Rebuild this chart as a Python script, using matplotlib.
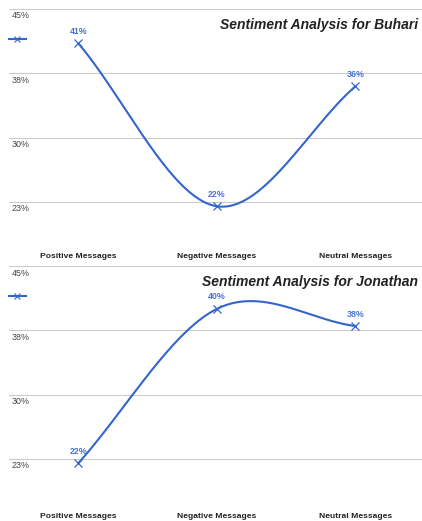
import numpy as np
import matplotlib.pyplot as plt
from matplotlib.lines import Line2D

plt.rcParams['font.family'] = ['Liberation Sans', 'DejaVu Sans']

categories = ['Positive Messages', 'Negative Messages', 'Neutral Messages']
buhari = [41, 22, 36]
jonathan = [22, 40, 38]
titles = ['Sentiment Analysis for Buhari', 'Sentiment Analysis for Jonathan']
grid_levels = [45, 37.5, 30, 22.5]
grid_labels = ['45%', '38%', '30%', '23%']

BLUE = '#3366cc'
W, H = 422, 521
PX_PER_PCT = 64.33 / 7.5


def smooth(x, y, n=80):
    # cubic hermite curve, tangents taken from the neighbouring points
    x = np.asarray(x, float)
    y = np.asarray(y, float)
    m = np.empty_like(y)
    m[1:-1] = (y[2:] - y[:-2]) / (x[2:] - x[:-2])
    m[0] = (y[1] - y[0]) / (x[1] - x[0])
    m[-1] = (y[-1] - y[-2]) / (x[-1] - x[-2])
    xs, ys = [], []
    t = np.linspace(0, 1, n)
    for i in range(len(x) - 1):
        h = x[i + 1] - x[i]
        h00 = 2 * t**3 - 3 * t**2 + 1
        h10 = t**3 - 2 * t**2 + t
        h01 = -2 * t**3 + 3 * t**2
        h11 = t**3 - t**2
        xs.append(x[i] + t * h)
        ys.append(h00 * y[i] + h10 * h * m[i] + h01 * y[i + 1] + h11 * h * m[i + 1])
    return np.concatenate(xs), np.concatenate(ys)


def pt(px):
    return px * 0.72


fig = plt.figure(figsize=(W / 100, H / 100), dpi=100)


def panel(top, bottom, values, title):
    ax = fig.add_axes([9 / W, 1 - bottom / H, (W - 9) / W, (bottom - top) / H])
    ax.set_xlim(-0.5, 2.48)
    ax.set_ylim(45 - (bottom - top) / PX_PER_PCT, 45)
    ax.axis('off')
    x = np.arange(len(categories))

    for lvl, lab in zip(grid_levels, grid_labels):
        ax.axhline(lvl, color='#cccccc', lw=0.8, zorder=0)
        ax.annotate(lab, (0, lvl), xycoords=('axes fraction', 'data'),
                    xytext=(pt(3), -pt(2.5)), textcoords='offset points',
                    ha='left', va='top', fontsize=6.4, color='#444444')

    cx, cy = smooth(x, values)
    ax.plot(cx, cy, color=BLUE, lw=1.5, solid_capstyle='round')
    ax.plot(x, values, 'x', color=BLUE, ms=5.5, mew=0.9)
    for xi, v in zip(x, values):
        ax.annotate(f'{v}%', (xi, v), xytext=(0, pt(12)), textcoords='offset points',
                    ha='center', va='center', fontsize=6.4, fontweight='bold',
                    color='#4a74d0')

    for xi, c in zip(x, categories):
        ax.annotate(c, (xi, 0), xycoords=('data', 'axes fraction'),
                    xytext=(0, pt(5)), textcoords='offset points',
                    ha='center', va='center', fontsize=6.1, fontweight='bold',
                    color='#222222')

    ax.annotate(title, (1, 1), xycoords='axes fraction',
                xytext=(-pt(4), -pt(16)), textcoords='offset points',
                ha='right', va='center', fontsize=10, fontweight='bold',
                fontstyle='italic', color='#222222')

    handle = Line2D([], [], color=BLUE, lw=1.5, marker='x', ms=4, mew=0.8)
    ax.legend([handle], [''], loc='center left', frameon=False,
              bbox_to_anchor=(0, 1 - 31 / (bottom - top)),
              borderpad=0, borderaxespad=0, handlelength=2.0,
              handletextpad=0, fontsize=6, numpoints=1)
    return ax


panel(9, 262, buhari, titles[0])
panel(266, 521, jonathan, titles[1])

fig.savefig('out.png', dpi=100, facecolor='white')
